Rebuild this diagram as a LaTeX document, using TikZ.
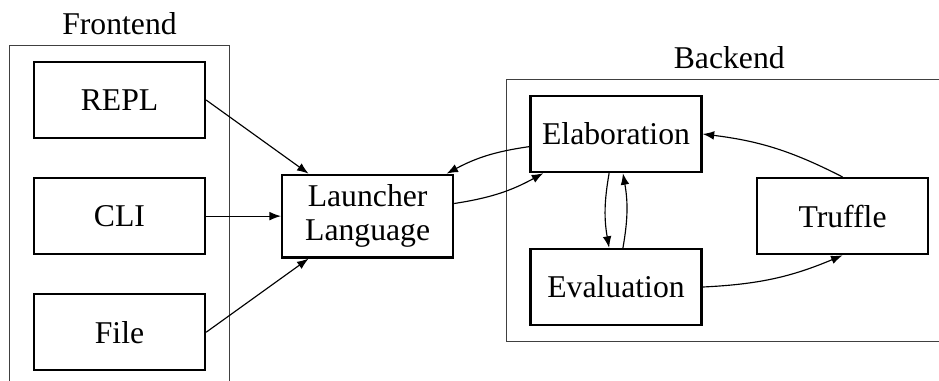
\documentclass[tikz,border=0pt]{standalone}
\usepackage{fontspec}
\setmainfont{Liberation Serif}
\usetikzlibrary{arrows.meta,positioning,fit}

\begin{document}
\begin{tikzpicture}[
  x=0.347pt,y=-0.347pt,
  node distance=40.3pt,
  on grid,
  >={Latex[length=4pt,width=3pt]},
  block/.style={draw,thick,minimum width=59.3pt,minimum height=26.4pt,align=center,font=\fontsize{11}{12}\selectfont},
  group/.style={draw=black!75,inner xsep=8pt,inner ysep=5.4pt},
  every label/.style={font=\fontsize{11}{12}\selectfont},
  flow/.style={->,thin}]
  \useasboundingbox (0,0) rectangle (939,381);
  \clip (0,0) rectangle (939,381);
  % frontend side
  \node [block] (repl) at (119.5,100) {REPL};
  \node [block] (cli)  [below=of repl] {CLI};
  \node [block] (file) [below=of cli] {File};
  \node [block] (launcher) [right=86.1pt of cli] {Launcher\\Language};
  % backend side
  \node [block] (elab) [above right=28.5pt and 86.2pt of launcher] {Elaboration};
  \node [block] (eval) [below=53.1pt of elab] {Evaluation};
  \node [block] (truffle) [right=164.8pt of launcher] {Truffle};
  \node [group,fit=(repl)(file),label=above:Frontend] (front) {};
  \node [group,fit=(elab)(eval)(truffle),label=above:Backend] (back) {};
  % connections
  \draw [flow] (repl.east) -- (launcher);
  \draw [flow] (cli) -- (launcher);
  \draw [flow] (file.east) -- (launcher);
  \draw [flow] (launcher) to [bend right=10] (elab);
  \draw [flow] (elab) to [bend right=10] (launcher);
  \draw [flow] (elab) to [bend right=10] (eval);
  \draw [flow] (eval) to [bend right=10] (elab);
  \draw [flow] (eval.east) to [bend right=10] (truffle.south);
  \draw [flow] (truffle.north) to [bend right=10] (elab.east);
\end{tikzpicture}
\end{document}
